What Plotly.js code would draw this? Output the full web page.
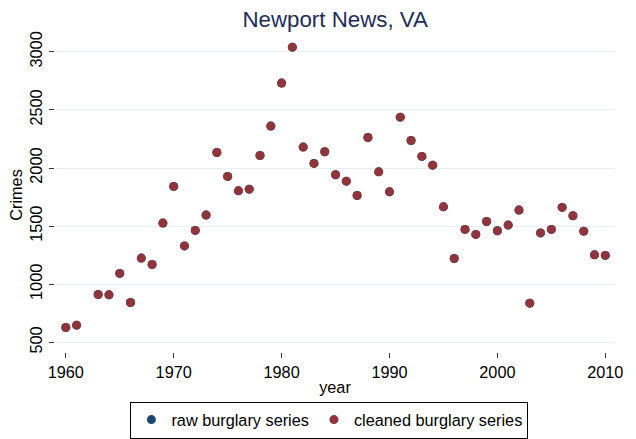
<!DOCTYPE html>
<html>
<head>
<meta charset="utf-8">
<script src="https://cdn.plot.ly/plotly-3.0.1.min.js"></script>
<style>html,body{margin:0;padding:0;background:#fff;}#chart{width:636px;height:439px;}</style>
</head>
<body>
<div id="chart"></div>
<script>
const years = [1960,1961,1962,1963,1964,1965,1966,1967,1968,1969,1970,1971,1972,1973,1974,1975,1976,1977,1978,1979,1980,1981,1982,1983,1984,1985,1986,1987,1988,1989,1990,1991,1992,1993,1994,1995,1996,1997,1998,1999,2000,2001,2002,2003,2004,2005,2006,2007,2008,2009,2010];
const rawBurglary = [628,648,null,912,909,1093,843,1225,1170,1526,1842,1330,1463,1595,2134,1928,1804,1818,2108,2361,2731,3040,2180,2040,2140,1942,1887,1764,2263,1967,1795,2438,2237,2100,2025,1666,1222,1472,1429,1540,1460,1509,1638,837,1442,1472,1661,1589,1457,1253,1248];
const cleanedBurglary = [628,648,null,912,909,1093,843,1225,1170,1526,1842,1330,1463,1595,2134,1928,1804,1818,2108,2361,2731,3040,2180,2040,2140,1942,1887,1764,2263,1967,1795,2438,2237,2100,2025,1666,1222,1472,1429,1540,1460,1509,1638,837,1442,1472,1661,1589,1457,1253,1248];
const xTicks = [1960,1970,1980,1990,2000,2010];
const yTicks = [500,1000,1500,2000,2500,3000];
const seriesNames = ['raw burglary series','cleaned burglary series'];

const font = 'Liberation Sans, Arial, Helvetica, sans-serif';
const traces = [
  {x: years, y: rawBurglary, name: seriesNames[0], type: 'scatter', mode: 'markers',
   marker: {color: '#1a476f', size: 9, line: {width: 0}}},
  {x: years, y: cleanedBurglary, name: seriesNames[1], type: 'scatter', mode: 'markers',
   marker: {color: '#90353b', size: 9, line: {width: 0}}}
];
const layout = {
  width: 636, height: 439,
  paper_bgcolor: '#ffffff', plot_bgcolor: '#ffffff',
  margin: {l: 55, r: 21, t: 38, b: 87, autoexpand: false},
  font: {family: font, size: 16.3, color: '#000'},
  title: {text: 'Newport News, VA', font: {family: font, size: 22.3, color: '#1e2d59'},
          x: 0.527, xanchor: 'center', y: 0.957, yanchor: 'middle'},
  xaxis: {range: [1959.0, 2010.9], tickvals: xTicks, ticktext: xTicks.map(String),
          ticks: 'outside', ticklen: 5, tickcolor: '#333', tickwidth: 1,
          ticklabelstandoff: 0, automargin: false,
          showgrid: false, zeroline: false, showline: false,
          tickfont: {size: 16.3},
          title: {text: 'year', font: {size: 16.3}, standoff: 2}},
  yaxis: {range: [417, 3119], tickvals: yTicks, ticktext: yTicks.map(String),
          ticks: 'outside', ticklen: 5, tickcolor: '#333', tickwidth: 1, tickangle: -90,
          showgrid: true, gridcolor: '#e6eff1', gridwidth: 1, automargin: false,
          zeroline: false, showline: false,
          tickfont: {size: 16.3},
          title: {text: 'Crimes', font: {size: 16.3}, standoff: 0}},
  showlegend: true,
  legend: {orientation: 'h', x: 0.49, xanchor: 'center', y: -0.2166, yanchor: 'middle',
           bordercolor: '#000', borderwidth: 1, bgcolor: '#fff',
           font: {size: 16.3}, itemwidth: 30, traceorder: 'normal'}
};
Plotly.newPlot('chart', traces, layout, {displayModeBar: false, staticPlot: true});
</script>
</body>
</html>
